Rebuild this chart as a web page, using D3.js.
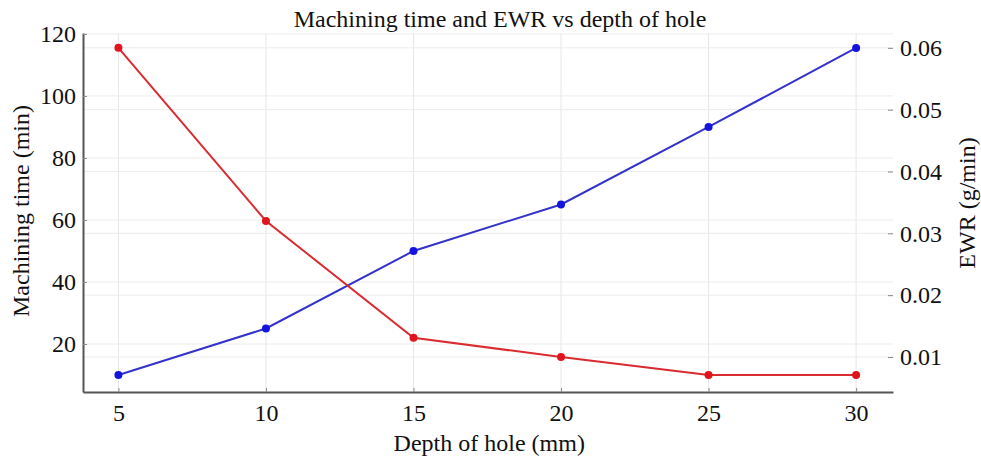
<!DOCTYPE html>
<html>
<head>
<meta charset="utf-8">
<script src="https://cdn.jsdelivr.net/npm/d3@7"></script>
<style>
  body { margin: 0; background: #fff; }
  text { font-family: "Liberation Serif", "Times New Roman", serif; }
</style>
</head>
<body>
<div id="chart"></div>
<script>
// data
var depths = [5, 10, 15, 20, 25, 30];
var machiningTime = [10, 25, 50, 65, 90, 115.5];
var ewr = [0.06, 0.032, 0.0131, 0.01, 0.0071, 0.0071];
var leftTicks = [20, 40, 60, 80, 100, 120];
var rightTicks = [0.01, 0.02, 0.03, 0.04, 0.05, 0.06];

var width = 981, height = 462;
var margin = {top: 33, right: 88, bottom: 70, left: 83};
var w = width - margin.left - margin.right;
var h = height - margin.top - margin.bottom;

const svg = d3.select("#chart")
  .append("svg")
  .attr("width", width)
  .attr("height", height)
  .append("g")
  .attr("transform", `translate(${margin.left}, ${margin.top})`);

const x = d3.scaleLinear().domain([3.8, 31.25]).range([0, w]);
const yL = d3.scaleLinear().domain([4.52, 120.3]).range([h, 0]);
const yR = d3.scaleLinear().domain([0.00434, 0.0624]).range([h, 0]);

// grid
svg.append("g")
  .selectAll("line")
  .data(depths)
  .join("line")
  .attr("x1", d => x(d)).attr("x2", d => x(d))
  .attr("y1", 0).attr("y2", h)
  .attr("stroke", "#e6e6e6");

svg.append("g")
  .selectAll("line")
  .data(leftTicks)
  .join("line")
  .attr("x1", 0).attr("x2", w)
  .attr("y1", d => yL(d)).attr("y2", d => yL(d))
  .attr("stroke", "#ececec");

svg.append("g")
  .selectAll("line")
  .data(rightTicks)
  .join("line")
  .attr("x1", 0).attr("x2", w)
  .attr("y1", d => yR(d)).attr("y2", d => yR(d))
  .attr("stroke", "#ececec");

// axes
const xAxis = svg.append("g")
  .attr("transform", `translate(0, ${h})`)
  .call(d3.axisBottom(x).tickValues(depths).tickSizeInner(-4).tickSizeOuter(0).tickPadding(12));

const leftAxis = svg.append("g")
  .call(d3.axisLeft(yL).tickValues(leftTicks).tickSizeInner(-4).tickSizeOuter(0).tickPadding(7));

const rightAxis = svg.append("g")
  .attr("transform", `translate(${w}, 0)`)
  .call(d3.axisRight(yR).tickValues(rightTicks).tickFormat(d3.format(".2f")).tickSize(5).tickPadding(2));
rightAxis.select(".domain").remove();

[xAxis, leftAxis, rightAxis].forEach(function(a) {
  a.selectAll("text").attr("font-size", 24).attr("fill", "#111");
  a.selectAll("line").attr("stroke", "#888");
  a.select(".domain").attr("stroke", "#555").attr("stroke-width", 2);
});
rightAxis.selectAll(".tick line").attr("transform", "translate(-5,0)");

// lines
const lineBlue = d3.line().x((d, i) => x(depths[i])).y(d => yL(d));
const lineRed = d3.line().x((d, i) => x(depths[i])).y(d => yR(d));

svg.append("path")
  .datum(machiningTime)
  .attr("d", lineBlue)
  .attr("fill", "none")
  .attr("stroke", "#3333cc")
  .attr("stroke-width", 2);

svg.append("path")
  .datum(ewr)
  .attr("d", lineRed)
  .attr("fill", "none")
  .attr("stroke", "#d92b30")
  .attr("stroke-width", 2);

svg.append("g")
  .selectAll("circle")
  .data(machiningTime)
  .join("circle")
  .attr("cx", (d, i) => x(depths[i]))
  .attr("cy", d => yL(d))
  .attr("r", 4)
  .attr("fill", "#1414dd");

svg.append("g")
  .selectAll("circle")
  .data(ewr)
  .join("circle")
  .attr("cx", (d, i) => x(depths[i]))
  .attr("cy", d => yR(d))
  .attr("r", 4)
  .attr("fill", "#e0141c");

// titles
svg.append("text")
  .attr("x", w / 2 + 12)
  .attr("y", -6)
  .attr("text-anchor", "middle")
  .attr("font-size", 24)
  .attr("fill", "#111")
  .text("Machining time and EWR vs depth of hole");

svg.append("text")
  .attr("x", x(17.5) + 2)
  .attr("y", h + 59)
  .attr("text-anchor", "middle")
  .attr("font-size", 24)
  .attr("fill", "#111")
  .text("Depth of hole (mm)");

svg.append("text")
  .attr("transform", `translate(${-margin.left + 29}, ${178}) rotate(-90)`)
  .attr("text-anchor", "middle")
  .attr("font-size", 24)
  .attr("fill", "#111")
  .text("Machining time (min)");

svg.append("text")
  .attr("transform", `translate(${w + 82}, ${170}) rotate(-90)`)
  .attr("text-anchor", "middle")
  .attr("font-size", 24)
  .attr("fill", "#111")
  .text("EWR (g/min)");
</script>
</body>
</html>
